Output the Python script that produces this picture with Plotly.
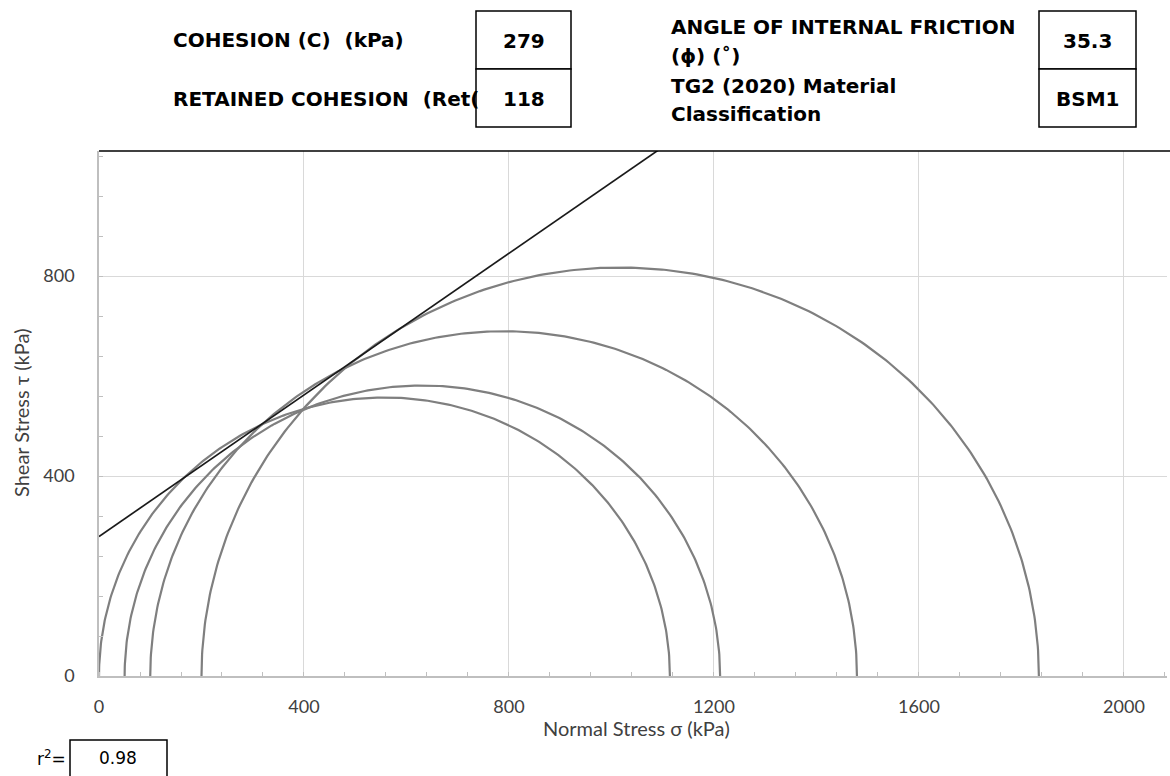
import numpy as np
import plotly.graph_objects as go

# ---- data ----
sigma3 = [0, 50, 100, 200]          # minor principal stress (kPa)
sigma1 = [1114, 1212, 1479, 1834]   # major principal stress (kPa)
cohesion = 279                      # kPa
phi_deg = 35.3                      # degrees
retained_cohesion = 118
material_class = "BSM1"
r_squared = 0.98
x_tickvals = [0, 400, 800, 1200, 1600, 2000]
y_tickvals = [0, 400, 800]

# ---- layout helpers (pixel -> paper) ----
W, H = 1170, 776
ML, MR, MT, MB = 99, 3, 151, 100
PW, PH = W - ML - MR, H - MT - MB

def px(x):
    return (x - ML) / PW

def py(y):
    return (H - MB - y) / PH

fig = go.Figure()

# Mohr circles
for s3, s1 in zip(sigma3, sigma1):
    c = (s1 + s3) / 2
    r = (s1 - s3) / 2
    th = np.linspace(0, np.pi, 300)
    fig.add_trace(go.Scatter(x=c + r * np.cos(th), y=r * np.sin(th), mode="lines",
                             line=dict(color="#7f7f7f", width=2.2), hoverinfo="skip"))

# failure envelope
xe = np.array([0, 2100])
fig.add_trace(go.Scatter(x=xe, y=cohesion + np.tan(np.radians(phi_deg)) * xe, mode="lines",
                         line=dict(color="#1a1a1a", width=1.7), hoverinfo="skip"))

tickfont = dict(family="Lato", size=18, color="#404040")
fig.update_xaxes(range=[0, 2084], tickvals=x_tickvals, ticktext=[str(v) for v in x_tickvals],
                 showgrid=True, gridcolor="#d9d9d9", gridwidth=1,
                 showline=True, linecolor="#bfbfbf", linewidth=1.5,
                 ticks="", tickfont=tickfont, ticklabelstandoff=14, zeroline=False,
                 minor=dict(dtick=80, tick0=0, ticks="inside", ticklen=4,
                            tickcolor="#bfbfbf", tickwidth=1, showgrid=False))
fig.update_yaxes(range=[0, 1050], tickvals=y_tickvals, ticktext=[str(v) for v in y_tickvals],
                 showgrid=True, gridcolor="#d9d9d9", gridwidth=1,
                 showline=True, linecolor="#bfbfbf", linewidth=1.5,
                 ticks="", tickfont=tickfont, ticklabelstandoff=19, zeroline=False,
                 minor=dict(dtick=80, tick0=0, ticks="inside", ticklen=4,
                            tickcolor="#bfbfbf", tickwidth=1, showgrid=False))

shapes = []
# top border line
shapes.append(dict(type="line", xref="paper", yref="paper", x0=0, x1=px(1170), y0=1, y1=1,
                   line=dict(color="black", width=1.5)))

def box(x0, x1, y0, y1):
    shapes.append(dict(type="rect", xref="paper", yref="paper", x0=px(x0), x1=px(x1),
                       y0=py(y1), y1=py(y0), line=dict(color="black", width=1.5),
                       fillcolor="white"))

box(476, 571, 11, 69)
box(476, 571, 69, 127)
box(1039, 1136, 11, 69)
box(1039, 1136, 69, 127)
box(70, 167, 740, 790)

ann = []
hfont = dict(family="DejaVu Sans", size=20, color="black")

def label(text, x, y, anchor="left", font=hfont, angle=0):
    ann.append(dict(text=text, x=px(x), y=py(y), xref="paper", yref="paper",
                    xanchor=anchor, yanchor="middle", showarrow=False, font=font,
                    textangle=angle))

label("<b>COHESION (C) \u00a0(kPa)</b>", 171, 40)
label("<b>RETAINED COHESION \u00a0(Ret(</b>", 171, 99)
label(f"<b>{cohesion}</b>", 523.5, 41, "center")
label(f"<b>{retained_cohesion}</b>", 523.5, 99, "center")
label("<b>ANGLE OF INTERNAL FRICTION</b>", 669, 27)
label("<b>(\u03d5) (\u02da)</b>", 669, 56)
label("<b>TG2 (2020) Material</b>", 669, 86)
label("<b>Classification</b>", 669, 114)
label(f"<b>{phi_deg}</b>", 1087.5, 41, "center")
label(f"<b>{material_class}</b>", 1087.5, 99, "center")

rfont = dict(family="DejaVu Sans", size=17, color="black")
label("r<sup>2</sup>=", 68, 758, "right", rfont)
label(f"{r_squared}", 118, 758, "center", rfont)

afont = dict(family="Lato", size=20, color="#404040")
label("Normal Stress \u03c3 (kPa)", 636, 728, "center", afont)
label("Shear Stress \u03c4 (kPa)", 21, 413, "center", afont, -90)

fig.update_layout(width=W, height=H, margin=dict(l=ML, r=MR, t=MT, b=MB),
                  paper_bgcolor="white", plot_bgcolor="white", showlegend=False,
                  shapes=shapes, annotations=ann)

fig.write_html("out.html")
